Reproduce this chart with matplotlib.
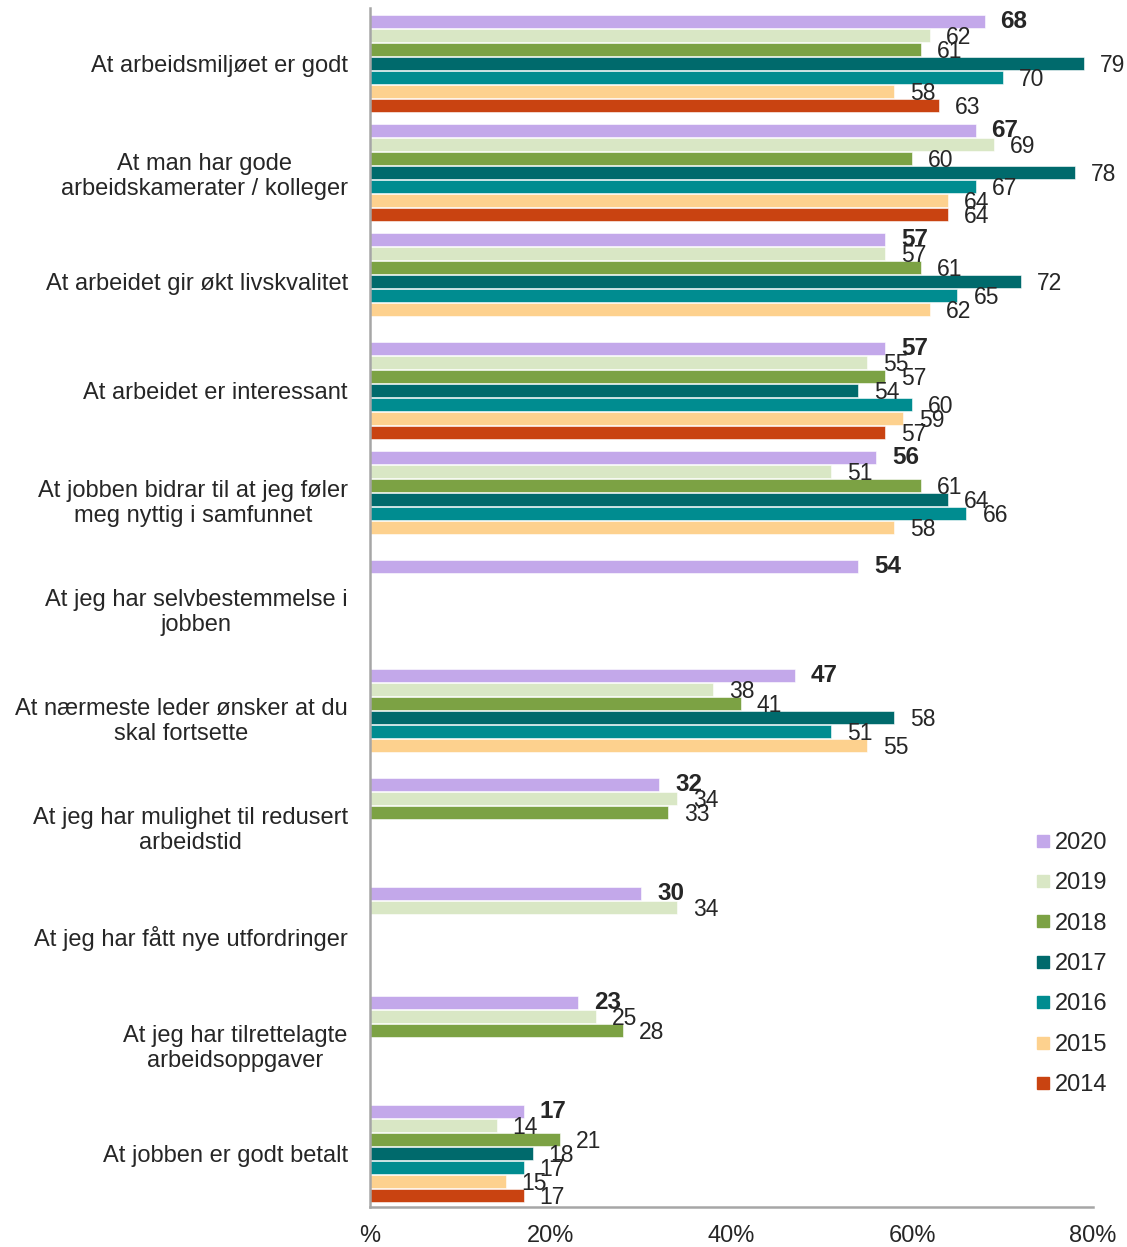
import matplotlib.pyplot as plt
from matplotlib.lines import Line2D
import numpy as np

plt.rcParams['font.family'] = ['Liberation Sans', 'DejaVu Sans']

# categories (top to bottom)
categories = [
    "At arbeidsmiljøet er godt",
    "At man har gode\narbeidskamerater / kolleger",
    "At arbeidet gir økt livskvalitet",
    "At arbeidet er interessant",
    "At jobben bidrar til at jeg føler\nmeg nyttig i samfunnet",
    "At jeg har selvbestemmelse i\njobben",
    "At nærmeste leder ønsker at du\nskal fortsette",
    "At jeg har mulighet til redusert\narbeidstid",
    "At jeg har fått nye utfordringer",
    "At jeg har tilrettelagte\narbeidsoppgaver",
    "At jobben er godt betalt",
]

years = ["2020", "2019", "2018", "2017", "2016", "2015", "2014"]
colors = ["#C3A8EA", "#D9E7C5", "#7CA244", "#006A6C", "#008C90", "#FDD18E", "#C94311"]

N = None
v2020 = [68, 67, 57, 57, 56, 54, 47, 32, 30, 23, 17]
v2019 = [62, 69, 57, 55, 51, N, 38, 34, 34, 25, 14]
v2018 = [61, 60, 61, 57, 61, N, 41, 33, N, 28, 21]
v2017 = [79, 78, 72, 54, 64, N, 58, N, N, N, 18]
v2016 = [70, 67, 65, 60, 66, N, 51, N, N, N, 17]
v2015 = [58, 64, 62, 59, 58, N, 55, N, N, N, 15]
v2014 = [63, 64, N, 57, N, N, N, N, N, N, 17]
series = [v2020, v2019, v2018, v2017, v2016, v2015, v2014]

xticks = [0, 20, 40, 60, 80]
xticklabels = ["%", "20%", "40%", "60%", "80%"]

fig = plt.figure(figsize=(11.27, 12.47), dpi=100)
ax = fig.add_axes([370 / 1127, 1 - 1207 / 1247, 723 / 1127, 1199 / 1247])

step = 0.1284
bar_h = 0.118
txt = "#262626"

for j, (yr, vals, col) in enumerate(zip(years, series, colors)):
    for i, v in enumerate(vals):
        if v is None:
            continue
        y = i + (j - 3) * step
        ax.barh(y, v, height=bar_h, color=col, edgecolor='white', linewidth=0.4)
        if j == 0:
            ax.annotate(str(v), (v, y), xytext=(11.5, 0), textcoords='offset points',
                        ha='left', va='center', fontsize=17.5, fontweight='bold', color=txt)
        else:
            ax.annotate(str(v), (v, y), xytext=(11.5, -1.5), textcoords='offset points',
                        ha='left', va='center', fontsize=16.5, color=txt)

ax.set_xlim(0, 80)
ax.set_ylim(10.49, -0.51)
ax.set_yticks(range(len(categories)))
ax.set_yticklabels(categories, fontsize=17, color=txt, multialignment='center',
                   linespacing=1.15)
ax.set_xticks(xticks)
ax.set_xticklabels(xticklabels, fontsize=17, color=txt)
ax.tick_params(axis='y', length=0, pad=16)
ax.tick_params(axis='x', length=0, pad=13)
for s in ['top', 'right']:
    ax.spines[s].set_visible(False)
for s in ['left', 'bottom']:
    ax.spines[s].set_color('#A6A6A6')
    ax.spines[s].set_linewidth(1.8)

handles = [Line2D([], [], marker='s', linestyle='none', markersize=9,
                  markerfacecolor=c, markeredgecolor=c) for c in colors]
fig.legend(handles, years, loc='upper left', bbox_to_anchor=(1024 / 1127, 1 - 820 / 1247),
           frameon=False, fontsize=17, labelspacing=0.78, handlelength=0.6,
           handletextpad=0.2, borderpad=0, labelcolor=txt)

fig.savefig("out.png", dpi=100)
